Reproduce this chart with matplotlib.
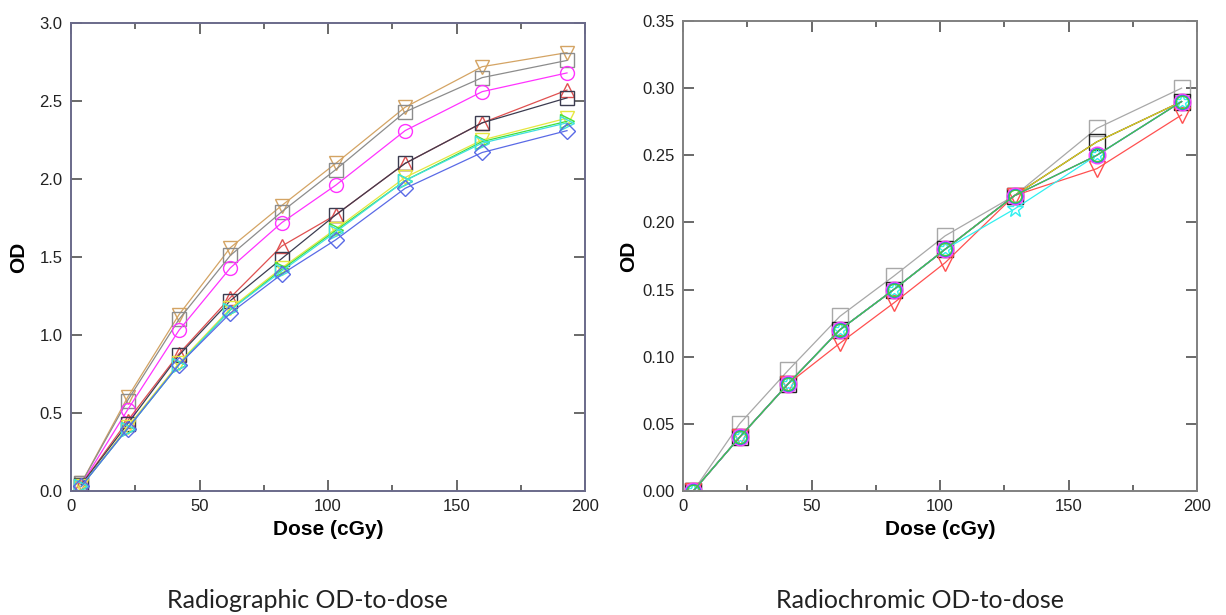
import matplotlib
matplotlib.use("Agg")
import matplotlib.pyplot as plt
from matplotlib.ticker import MultipleLocator, FormatStrFormatter

plt.rcParams['font.family'] = ['Liberation Sans', 'DejaVu Sans']

# ---- data: radiographic (left) ----
dose_left = [4, 22, 42, 62, 82, 103, 130, 160, 193]
rg_tan     = [0.05, 0.60, 1.13, 1.56, 1.83, 2.10, 2.46, 2.72, 2.81]
rg_gray    = [0.05, 0.58, 1.10, 1.51, 1.79, 2.06, 2.43, 2.65, 2.76]
rg_magenta = [0.04, 0.52, 1.03, 1.43, 1.72, 1.96, 2.31, 2.56, 2.68]
rg_red     = [0.04, 0.45, 0.88, 1.24, 1.57, 1.77, 2.10, 2.36, 2.57]
rg_dark    = [0.04, 0.43, 0.87, 1.22, 1.49, 1.77, 2.10, 2.36, 2.52]
rg_yellow  = [0.03, 0.41, 0.82, 1.17, 1.43, 1.68, 2.01, 2.25, 2.39]
rg_green   = [0.03, 0.40, 0.81, 1.16, 1.42, 1.67, 1.99, 2.24, 2.37]
rg_cyan    = [0.03, 0.40, 0.81, 1.16, 1.41, 1.66, 1.99, 2.23, 2.36]
rg_blue    = [0.03, 0.40, 0.81, 1.14, 1.39, 1.61, 1.94, 2.17, 2.31]

# ---- data: radiochromic (right) ----
dose_right = [4, 22, 41, 61, 82, 102, 129, 161, 194]
rc_gray    = [0.00, 0.05, 0.09, 0.13, 0.16, 0.19, 0.22, 0.27, 0.30]
rc_black   = [0.00, 0.04, 0.08, 0.12, 0.15, 0.18, 0.22, 0.26, 0.29]
rc_yellow  = [0.00, 0.04, 0.08, 0.12, 0.15, 0.18, 0.22, 0.26, 0.29]
rc_red     = [0.00, 0.04, 0.08, 0.11, 0.14, 0.17, 0.22, 0.24, 0.28]
rc_cyan    = [0.00, 0.04, 0.08, 0.12, 0.15, 0.18, 0.21, 0.25, 0.29]
rc_magenta = [0.00, 0.04, 0.08, 0.12, 0.15, 0.18, 0.22, 0.25, 0.29]
rc_blue    = [0.00, 0.04, 0.08, 0.12, 0.15, 0.18, 0.22, 0.25, 0.29]
rc_lime    = [0.00, 0.04, 0.08, 0.12, 0.15, 0.18, 0.22, 0.25, 0.29]

left_ticks = [0.0, 0.5, 1.0, 1.5, 2.0, 2.5, 3.0]
right_ticks = [0.00, 0.05, 0.10, 0.15, 0.20, 0.25, 0.30, 0.35]

fig = plt.figure(figsize=(12.26, 6.15), dpi=100)
ax1 = fig.add_axes([71/1226, 1-491/615, (585-71)/1226, (491-23)/615])
ax2 = fig.add_axes([683/1226, 1-491/615, (1197-683)/1226, (491-21)/615])

ms = 10
lw = 0.9
left_series = [
    (rg_tan, '#d4a464', 'v'),
    (rg_gray, '#8c8c8c', 's'),
    (rg_magenta, '#ff33ff', 'o'),
    (rg_red, '#e05050', '^'),
    (rg_dark, '#3c3c50', 's'),
    (rg_yellow, '#e6e640', 'v'),
    (rg_green, '#40e040', '>'),
    (rg_cyan, '#40e0e0', '>'),
    (rg_blue, '#5a6ae6', 'D'),
]
for ys, c, m in left_series:
    ax1.plot(dose_left, ys, color=c, lw=lw, marker=m, ms=ms if m != 'D' else 8,
             mfc='none', mec=c, mew=1.0)

right_series = [
    (rc_gray, '#a8a8a8', 's', 11),
    (rc_black, '#202020', 's', 11),
    (rc_yellow, '#e0d020', None, 0),
    (rc_red, '#ff5050', 'v', 12),
    (rc_cyan, '#30f0f0', '*', 12),
    (rc_magenta, '#ff40ff', 'o', 12),
    (rc_blue, '#4060ff', 'o', 10),
    (rc_lime, '#40d040', 'o', 9),
]
for ys, c, m, s in right_series:
    ax2.plot(dose_right, ys, color=c, lw=lw, marker=m, ms=s,
             mfc='none', mec=c, mew=1.0)

for ax, frame_col, ticks, fmt, ylim, ylpad in [
        (ax1, '#6a6a8a', left_ticks, '%.1f', (0, 3.0), 8),
        (ax2, '#808080', right_ticks, '%.2f', (0, 0.35), 3)]:
    ax.set_xlim(0, 200)
    ax.set_ylim(*ylim)
    ax.set_yticks(ticks)
    ax.yaxis.set_major_formatter(FormatStrFormatter(fmt))
    ax.xaxis.set_major_locator(MultipleLocator(50))
    ax.xaxis.set_minor_locator(MultipleLocator(25))
    ax.tick_params(which='major', direction='in', length=8, width=1.2,
                   top=True, right=True, labelsize=12, color='#505050', pad=6,
                   labelcolor='#222222')
    ax.tick_params(which='minor', direction='in', length=4, width=1.2,
                   top=True, right=False, left=False, color='#505050')
    for sp in ax.spines.values():
        sp.set_color(frame_col)
        sp.set_linewidth(1.4)
    ax.set_xlabel('Dose (cGy)', fontsize=15, fontweight='bold', labelpad=4)
    ax.set_ylabel('OD', fontsize=15, fontweight='bold', labelpad=ylpad)

fig.text(307/1226, 1-600/615, 'Radiographic OD-to-dose', ha='center', va='center',
         fontsize=18, family=['Lato', 'DejaVu Sans'], color='#222222')
fig.text(920/1226, 1-600/615, 'Radiochromic OD-to-dose', ha='center', va='center',
         fontsize=18, family=['Lato', 'DejaVu Sans'], color='#222222')

fig.savefig('out.png', dpi=100)
